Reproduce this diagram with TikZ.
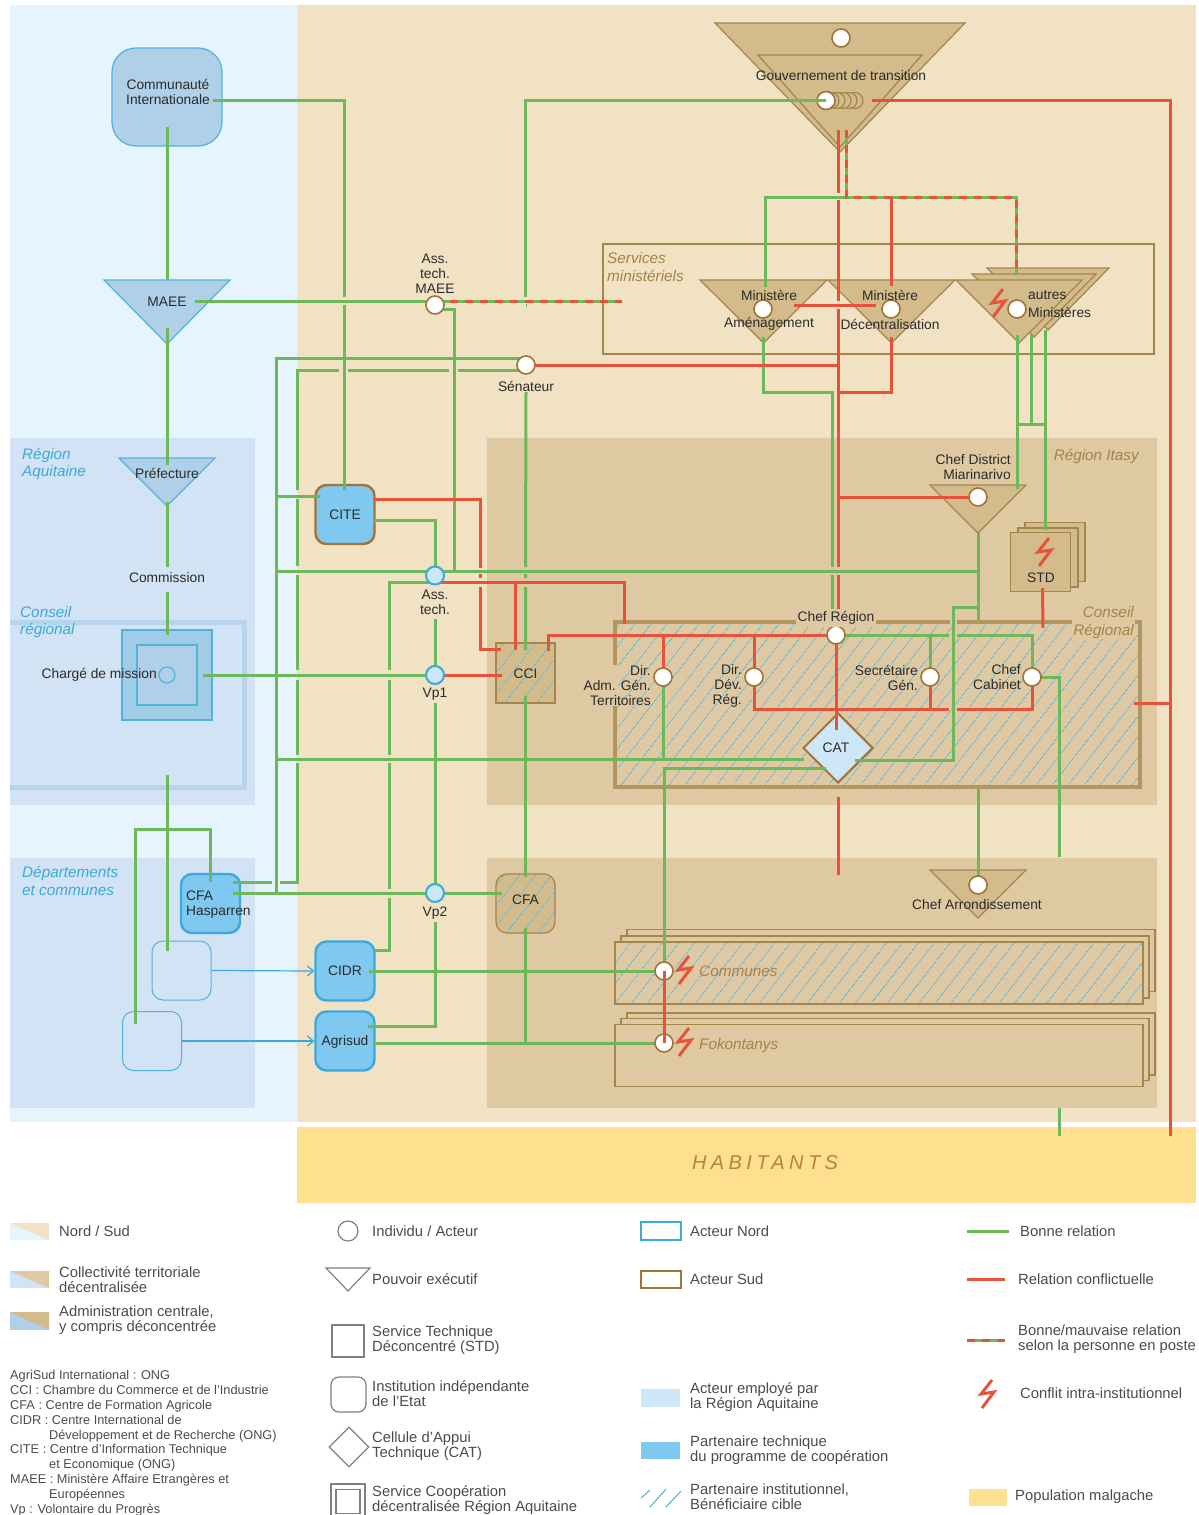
\documentclass[tikz,border=0pt]{standalone}
\usepackage{xcolor}
\usepackage{fontspec}
\setmainfont{Liberation Sans}
\usepackage{tikz}
\usetikzlibrary{shapes.geometric, arrows.meta, patterns.meta}

\definecolor{nordfond}{HTML}{E6F4FD}
\definecolor{sudfond}{HTML}{F1E2C4}
\definecolor{aquit}{HTML}{D2E3F5}
\definecolor{itasy}{HTML}{DFC9A3}
\definecolor{habit}{HTML}{FEE08F}
\definecolor{nordadm}{HTML}{AFD0E8}
\definecolor{sudadm}{HTML}{D3BB8B}
\definecolor{traitnord}{HTML}{4FB3DC}
\definecolor{traitsud}{HTML}{A4854C}
\definecolor{traitact}{HTML}{A0733A}
\definecolor{vert}{HTML}{6DB85A}
\definecolor{rouge}{HTML}{E8523A}
\definecolor{partenaire}{HTML}{7FC8F0}
\definecolor{employe}{HTML}{CDE6F8}
\definecolor{hachcol}{HTML}{5DB5D0}
\definecolor{texte}{HTML}{2B2B2B}
\definecolor{titrenord}{HTML}{3BA9DC}
\definecolor{titresud}{HTML}{A5824A}

\pgfdeclarelayer{fond}
\pgfdeclarelayer{liens}
\pgfsetlayers{fond,liens,main}

\newcommand{\pouvoir}[6]{\draw[#1] ({#2-#4},#3) -- ({#2+#4},#3) -- (#2,{#3+#5}) -- cycle;
    \coordinate (#6) at (#2,#3);
    \coordinate (#6b) at (#2,{#3+#5});}
\newcommand{\eclair}[2]{\draw[mauvaise, shift={(#1,#2)}] (5,-14) -- (-6,0) -- (7,-2) -- (-5,14);}

\begin{document}
\begin{tikzpicture}[x=1pt, y=-1pt]
    \tikzstyle{bonne} = [draw=vert, line width=3pt]
    \tikzstyle{mauvaise} = [draw=rouge, line width=3pt]
    \tikzstyle{mixte} = [draw=vert, line width=3pt, postaction={draw=rouge, dash pattern=on 8pt off 7pt}]
    \tikzstyle{fleche} = [draw=titrenord, line width=1.2pt, -{Straight Barb[length=6pt, width=10pt]}]
    \tikzstyle{lbl} = [font=\fontsize{13.8}{15}\selectfont, text=texte, inner sep=0pt, align=center]
    \tikzstyle{leg} = [font=\fontsize{14.8}{15}\selectfont, text=texte!85, inner sep=0pt, align=left, anchor=west]
    \tikzstyle{titren} = [font=\fontsize{15.3}{17.5}\selectfont\itshape, text=titrenord, inner sep=0pt, align=left, anchor=west]
    \tikzstyle{titres} = [font=\fontsize{15.3}{17.5}\selectfont\itshape, text=titresud, inner sep=0pt, align=left, anchor=west]
    \tikzstyle{acteur} = [circle, draw=traitact, fill=white, line width=1.6pt, minimum size=18pt, inner sep=0pt]
    \tikzstyle{acteurn} = [circle, draw=titrenord, fill=employe, line width=2pt, minimum size=18pt, inner sep=0pt]
    \tikzstyle{trin} = [draw=traitnord, fill=nordadm, line width=1.2pt]
    \tikzstyle{tris} = [draw=traitsud, fill=sudadm, line width=1.2pt]
    \tikzstyle{hachure} = [pattern={Lines[angle=52, distance=13pt, line width=1pt]}, pattern color=hachcol]
    \tikzstyle{instn} = [rectangle, rounded corners=11pt, minimum width=59pt, minimum height=59pt, inner sep=0pt, draw=titrenord, fill=partenaire, line width=2.4pt, text=texte, font=\fontsize{13.8}{15}\selectfont, text height=9.5pt, text depth=0pt]
    \tikzstyle{vide} = [rectangle, rounded corners=11pt, minimum width=59pt, minimum height=59pt, draw=traitnord, line width=1pt]
    \tikzstyle{pile} = [rectangle, minimum width=528pt, minimum height=62pt, draw=traitsud, fill=itasy, line width=1.2pt]
    \tikzstyle{std} = [rectangle, minimum width=60pt, minimum height=59pt, draw=traitsud, fill=sudadm, line width=1.2pt]
    \tikzstyle{forme} = [draw=gray, line width=1.2pt, inner sep=0pt]
    \useasboundingbox (0,0) rectangle (1199,1515);

    \begin{pgfonlayer}{fond}
    \fill[nordfond] (10,5) rectangle (297,1122);
    \fill[sudfond] (297,5) rectangle (1196,1122);
    \fill[aquit] (10,438) rectangle (255,805);
    \fill[aquit] (10,858) rectangle (255,1108);
    \fill[itasy] (487,438) rectangle (1157,805);
    \fill[itasy] (487,858) rectangle (1157,1108);
    \fill[habit] (297,1127) rectangle (1196,1203);
    \draw[nordadm!80!aquit, line width=5pt] (10,622) -- (244,622) -- (244,787) -- (10,787);

    \node (services) [rectangle, minimum width=551pt, minimum height=110pt, draw=traitsud, line width=2pt] at (878.5,299) {};
    \node (conseil) [rectangle, minimum width=525pt, minimum height=165pt, draw=traitsud!70!sudadm, line width=4pt, preaction={fill=itasy}, hachure] at (877.5,704.5) {};
    \fill[itasy] (612,665) rectangle (618,706);
    \fill[itasy] (949.5,619) rectangle (956.5,625);

    \node (comm) [rectangle, rounded corners=24pt, minimum width=110pt, minimum height=98pt, draw=traitnord, fill=nordadm, line width=1.2pt] at (167,97) {};
    \pouvoir{trin}{167}{280}{63}{64}{maae}
    \pouvoir{trin}{167}{458}{48}{48}{pref}
    \node (charge) [rectangle, minimum size=90pt, draw=traitnord, fill=nordadm!85!traitnord, line width=1.2pt] at (167,675) {};
    \node (chargei) [rectangle, minimum size=60pt, draw=traitnord, fill=nordadm, line width=1.2pt] at (167,675) {};

    \node (cfah) [instn] at (210.5,903.5) {};
    \node (vide1) [vide] at (181.5,970.5) {};
    \node (vide2) [vide] at (152,1041) {};
    \node (cite) [instn, draw=traitact] at (345,514.5) {CITE};
    \node (cidr) [instn] at (345,971) {CIDR};
    \node (agri) [instn] at (345,1041) {Agrisud};
    \node (cci) [rectangle, minimum width=59pt, minimum height=60pt, draw=traitsud, line width=1.2pt, preaction={fill=sudadm}, hachure] at (525.5,673) {};
    \node (cfa) [rectangle, rounded corners=11pt, minimum width=59pt, minimum height=59pt, draw=traitsud, line width=1.2pt, preaction={fill=sudadm}, hachure] at (525.5,903.5) {};

    \pouvoir{tris}{840}{23}{125}{129}{gouv}
    \pouvoir{tris}{840}{55}{82}{92}{gouvi}
    \pouvoir{tris}{763.5}{280}{63.5}{63}{ame}
    \pouvoir{tris}{891.5}{280}{63.5}{63}{dec}
    \pouvoir{tris}{1048}{268}{61}{62}{autc}
    \pouvoir{tris}{1034}{274}{62}{63}{autd}
    \pouvoir{tris}{1019}{280}{63}{63}{aut}
    \pouvoir{tris}{978}{485}{48}{48}{cdist}
    \pouvoir{tris}{978}{870}{48}{48}{carr}

    \node (stdc) [std] at (1055,552) {};
    \node (stdb) [std] at (1048,557.5) {};
    \node (stda) [std] at (1040.5,562) {};

    \node (comc) [pile] at (891,960.5) {};
    \node (comb) [pile] at (885,967) {};
    \node (coma) [pile, preaction={fill=itasy}, hachure] at (879,973) {};
    \node (fokc) [pile] at (891,1044) {};
    \node (fokb) [pile] at (885,1049.5) {};
    \node (foka) [pile] at (879,1055.5) {};

    \node (cat) [diamond, minimum size=70pt, inner sep=0pt, draw=traitact, fill=employe, line width=2pt] at (838,748) {};
    \end{pgfonlayer}

    \node (gouvt) [acteur] at (841,38) {};
    \foreach \px in {855,849,843,837,831}
        \draw[draw=traitsud, fill=sudadm, line width=1.2pt] (\px,100.5) circle (8);
    \node (gouvc) [acteur] at (826,100.5) {};
    \node (ame1) [acteur] at (763,309) {};
    \node (dec1) [acteur] at (891,309) {};
    \node (aut1) [acteur] at (1017,309) {};
    \node (atm) [acteur] at (435,305) {};
    \node (sen) [acteur] at (526,365) {};
    \node (asst) [acteurn] at (435,575.5) {};
    \node (vp1) [acteurn] at (435,675) {};
    \node (vp2) [acteurn] at (435,893) {};
    \node (cdc) [acteur] at (978,497) {};
    \node (chr) [acteur] at (836,635) {};
    \node (dira) [acteur] at (663,677) {};
    \node (dird) [acteur] at (754,677) {};
    \node (sg) [acteur] at (930,677) {};
    \node (cab) [acteur] at (1032,677) {};
    \node (carc) [acteur] at (978,885) {};
    \node (ncom) [acteur] at (664,971) {};
    \node (nfok) [acteur] at (664,1043) {};
    \node (chargec) [circle, draw=traitnord, line width=1.2pt, minimum size=16pt, inner sep=0pt] at (167,675) {};

    \begin{pgfonlayer}{liens}
    \draw[bonne] ([yshift=20pt]comm.south) -- (maae);
    \draw[bonne] ([yshift=16pt]maaeb) -- ([yshift=-7pt]pref);
    \draw[bonne] ([yshift=4pt]prefb) -- (167,567);
    \draw[bonne] (167,592) -- ([yshift=-6pt]charge.north);
    \draw[bonne] (167,775) -- (167,951);
    \draw[bonne] ([yshift=-9pt]cfah.north) |- (135,829) -- ([xshift=-17pt,yshift=-13pt]vide2.north);
    \draw[bonne] ([xshift=-10pt,yshift=-3pt]comm.east) -| (344,297) (344,305) -- ([xshift=-1pt,yshift=-6pt]cite.north);
    \draw[bonne] ([xshift=28pt,yshift=-21pt]maae) -- ([yshift=4pt]atm.center);
    \draw[mixte] ([yshift=4pt]atm.center) -- ([xshift=20pt,yshift=-2pt]services.west);
    \draw[bonne] ([yshift=-4pt]atm.center) -| (454,571);
    \draw[bonne] ([yshift=7pt]sen.center) -| (276,893);
    \draw[bonne] ([yshift=-5pt]sen.center) -- (458,370) (449,370) -- (348,370) (339,370) -| (297,490) (297,499) -- (297,566) (297,575) -- (297,670) (297,680) -- (297,755) (297,763) -- (297,882) -- (280,882) (272,882) -- ([xshift=-8pt,yshift=21.5pt]cfah.east);
    \draw[bonne] ([xshift=-8pt,yshift=10.5pt]cfah.east) -- (vp2.center) -- ([xshift=7pt,yshift=10.5pt]cfa.west);
    \draw[bonne] (276,496) -- ([xshift=6pt,yshift=18.5pt]cite.west);
    \draw[bonne] (276,571) -- (978,571);
    \draw[bonne] (cdistb) -- (978,621);
    \draw[bonne] ([yshift=-27pt]sen.center) -- (525.5,567) (525.5,574) -- (525.5,578) (525.5,587) -- ([yshift=-8pt]cci.north);
    \draw[bonne] ([yshift=8pt]cci.south) -- ([yshift=-4pt]cfa.north);
    \draw[bonne] ([yshift=6pt]cfa.south) -- (525.5,1043);
    \draw[bonne] ([xshift=-3pt,yshift=-5.5pt]cite.east) -| (asst.center);
    \draw[bonne] ([yshift=-43pt]asst.center) -- (vp1.center);
    \draw[bonne] ([yshift=-28pt]vp1.center) -- (vp2.center);
    \draw[bonne] ([yshift=-29pt]vp2.center) |- ([xshift=-8pt,yshift=15pt]agri.east);
    \draw[bonne] ([xshift=-10pt]charge.east) -- (vp1.center);
    \draw[bonne] ([yshift=-6.5pt]asst.center) -| (389,670) (389,680) -- (389,755) (389,763) -- (389,889) (389,898) |- ([xshift=-2pt,yshift=21pt]cidr.east);
    \draw[bonne] (276,759) -- ([xshift=2pt,yshift=-11pt]cat.west);
    \draw[bonne] ([xshift=-19pt,yshift=-12pt]cat.east) -| (953,607) -- (978,607);
    \draw[bonne] ([xshift=24pt,yshift=-20pt]cat.west) -| (ncom.center);
    \draw[bonne] (chr.center) -- (949,635) (957,635) -| (cab.center);
    \draw[bonne] (930,635) -- (sg.center);
    \draw[bonne] (dira.center) -- (663,759);
    \draw[bonne] (cab.center) -| (1059,857);
    \draw[bonne] (1059,1108) -- (1059,1136);
    \draw[bonne] (978,789) -- (carc.center);
    \draw[bonne] ([xshift=-7pt]cidr.east) -- (ncom.center);
    \draw[bonne] ([xshift=-3pt,yshift=-2pt]agri.east) -- (nfok.center);
    \draw[bonne] ([yshift=6pt]ameb) |- (832,392) -- (832,567) (832,575) -- (832,609);
    \draw[bonne] (846,197) -| (765,287);
    \draw[bonne] (1017,335) -- (1017,489);
    \draw[bonne] (1031,335) -- (1031,424);
    \draw[bonne] (1045,330) -- (1045,530);
    \draw[bonne] (1017,424) -- (1045,424);
    \draw[mixte] ([xshift=6pt,yshift=22pt]gouvb) |- (1016,197) -- (1016,275);

    \draw[mauvaise] ([xshift=-3pt,yshift=15.5pt]cite.east) -| (480,568) (480,574) -- (480,578) (480,587) |- ([xshift=6pt,yshift=24pt]cci.west);
    \draw[mauvaise] ([yshift=-6.5pt]asst.center) -- (624,582) -- (624,624);
    \draw[mauvaise] (515,582) -- ([xshift=-10.5pt,yshift=-8pt]cci.north);
    \draw[mauvaise] (vp1.center) -- ([xshift=7pt,yshift=-2pt]cci.west);
    \draw[mauvaise] (chr.center) -| ([xshift=22.5pt,yshift=-9pt]cci.north);
    \draw[mauvaise] (663,635) -- (dira.center);
    \draw[mauvaise] (754,635) -- (754,709) -- (949,709) (957,709) -| (cab.center);
    \draw[mauvaise] (sg.center) -- (930,709);
    \draw[mauvaise] (chr.center) -- (836,730);
    \draw[mauvaise] (838,797) -- (838,875);
    \draw[mauvaise] (838,130) -- (838,193) (838,200) -- (838,301) (838,309) -- (838,567) (838,575) -- (838,610);
    \draw[mauvaise] (sen.center) -- (838,365);
    \draw[mauvaise] ([yshift=6pt]decb) |- (838,392);
    \draw[mauvaise] (891,197) -- (891,286);
    \draw[mauvaise] (794,305) -- (876,305);
    \draw[mauvaise] (872,100) -| (1170,1136);
    \draw[mauvaise] (1134,703) -- (1170,703);
    \draw[mauvaise] (838,497) -- (cdc.center);
    \draw[mauvaise] ([xshift=2pt,yshift=4pt]stda.south) -- (1043,628);

    \draw[fleche] (vide1.east) -- (cidr.west);
    \draw[fleche] (vide2.east) -- (agri.west);
    \end{pgfonlayer}

    \draw[bonne] (525.5,297) |- (gouvc.center);
    \draw[bonne] ([yshift=60pt]sen.center) -- (525.5,305);
    \draw[mauvaise] (ncom.center) -- (nfok.center);

    \eclair{998}{303}
    \eclair{1044}{552}
    \eclair{684}{970}
    \eclair{684}{1042}

    \node (tcomm0) [lbl] at (168,92) {Communauté\\Internationale};
    \node (tmaae) [lbl] at (167,302) {MAEE};
    \node (tpref) [lbl] at (167,473) {Préfecture};
    \node (commission) [lbl] at (167,578) {Commission};
    \node (tcharge) [lbl, anchor=east] at (157,675) {Chargé de mission};
    \node (tcfah) [lbl, align=left, anchor=west] at (186,904.5) {CFA\\Hasparren};
    \node (tatm) [lbl] at (435,274) {Ass.\\tech.\\MAEE};
    \node (tsen) [lbl] at (526,386) {Sénateur};
    \node (tasst) [lbl] at (435,602) {Ass.\\tech.};
    \node (tvp1) [lbl] at (435,694) {Vp1};
    \node (tvp2) [lbl] at (435,913) {Vp2};
    \node (tcci) [lbl] at (525.5,674) {CCI};
    \node (tcfa) [lbl] at (525.5,900) {CFA};
    \node (tgouv) [lbl] at (841,76) {Gouvernement de transition};
    \node (tame1) [lbl] at (769,295) {Ministère};
    \node (tame2) [lbl] at (769,324) {Aménagement};
    \node (tdec1) [lbl] at (890,295) {Ministère};
    \node (tdec2) [lbl] at (890,324) {Décentralisation};
    \node (taut1) [lbl, anchor=west] at (1028,295) {autres};
    \node (taut2) [lbl, anchor=west] at (1028,312) {Ministères};
    \node (tcdist) [lbl, align=right, anchor=east] at (1011,467) {Chef District\\Miarinarivo};
    \node (tstd) [lbl] at (1041,578) {STD};
    \node (tchr) [lbl, fill=itasy, inner sep=2pt] at (836,618) {Chef Région};
    \node (tdira) [lbl, align=right, anchor=east] at (651,685.5) {Dir.\\Adm. Gén.\\Territoires};
    \node (tdird) [lbl, align=right, anchor=east] at (742,685.5) {Dir.\\Dév.\\Rég.};
    \node (tsg) [lbl, align=right, anchor=east] at (918,677.5) {Secrétaire\\Gén.};
    \node (tcab) [lbl, align=right, anchor=east] at (1021,677.5) {Chef\\Cabinet};
    \node (tcat) [lbl] at (836,748) {CAT};
    \node (tcarr) [lbl] at (977,905) {Chef Arrondissement};

    \node (rnord) [titren] at (22,464) {Région\\Aquitaine};
    \node (cnord) [titren] at (20,622) {Conseil\\régional};
    \node (dnord) [titren] at (22,881) {Départements\\et communes};
    \node (tserv) [titres] at (607,267) {Services\\ministériels};
    \node (titasy) [titres, anchor=east] at (1139,456) {Région Itasy};
    \node (tcons) [titres, align=right, anchor=east, fill=itasy, inner sep=1pt] at (1135,622.5) {Conseil\\Régional};
    \node (tcomm) [titres] at (699,971) {Communes};
    \node (tfok) [titres] at (699,1046) {Fokontanys};
    \node (thab) [font=\fontsize{20}{22}\selectfont\itshape\addfontfeature{LetterSpace=22}, text=titresud!80!orange, inner sep=0pt] at (765,1163) {HABITANTS};

    \fill[nordfond] (10,1223) rectangle (49,1240);
    \fill[sudfond] (10,1223) -- (49,1223) -- (49,1240) -- cycle;
    \fill[aquit] (10,1271) rectangle (49,1288);
    \fill[itasy] (10,1271) -- (49,1271) -- (49,1288) -- cycle;
    \fill[nordadm] (10,1312) rectangle (49,1330);
    \fill[sudadm] (10,1312) -- (49,1312) -- (49,1330) -- cycle;
    \node (l1) [leg] at (59,1231) {Nord / Sud};
    \node (l2) [leg] at (59,1279.5) {Collectivité territoriale\\décentralisée};
    \node (l3) [leg] at (59,1320.5) {Administration centrale,\\y compris déconcentrée};
    \node (labbr) [font=\fontsize{12.75}{14.9}\selectfont, text=texte!85, inner sep=0pt, align=left, anchor=north west] at (10,1370) {AgriSud International : ONG\\CCI : Chambre du Commerce et de l’Industrie\\CFA : Centre de Formation Agricole\\CIDR : Centre International de\\\hspace*{39pt}Développement et de Recherche (ONG)\\CITE : Centre d’Information Technique\\\hspace*{39pt}et Economique (ONG)\\MAEE : Ministère Affaire Etrangères et\\\hspace*{39pt}Européennes\\Vp : Volontaire du Progrès};

    \node (f1) [forme, circle, minimum size=20pt] at (348,1231) {};
    \draw[forme] (326,1268) -- (370,1268) -- (348,1291) -- cycle;
    \node (f3) [forme, rectangle, minimum width=32pt, minimum height=32pt] at (348,1341) {};
    \node (f4) [forme, rectangle, rounded corners=8pt, minimum width=35pt, minimum height=35pt] at (348.5,1394.5) {};
    \node (f5) [forme, diamond, minimum size=40pt] at (349,1447) {};
    \node (f6) [forme, rectangle, minimum width=34pt, minimum height=34pt] at (348,1501) {};
    \node (f7) [forme, rectangle, minimum width=24pt, minimum height=24pt] at (348,1501.5) {};
    \node (l4) [leg] at (372,1231) {Individu / Acteur};
    \node (l5) [leg] at (372,1279) {Pouvoir exécutif};
    \node (l6) [leg] at (372,1340) {Service Technique\\Déconcentré (STD)};
    \node (l7) [leg] at (372,1393.5) {Institution indépendante\\de l’Etat};
    \node (l8) [leg] at (372,1446.5) {Cellule d’Appui\\Technique (CAT)};
    \node (l9) [leg] at (372,1500.5) {Service Coopération\\décentralisée Région Aquitaine};

    \draw[titrenord, line width=2pt] (641,1222) rectangle (681,1240);
    \draw[traitact, line width=2pt] (641,1271) rectangle (681,1288);
    \fill[employe] (641,1389) rectangle (680,1407);
    \fill[partenaire] (641,1442) rectangle (680,1459);
    \draw[hachcol, line width=1.1pt] (641,1498) -- (650,1490) (650,1507) -- (666,1489) (666,1507) -- (681,1491);
    \node (l10) [leg] at (690,1231) {Acteur Nord};
    \node (l11) [leg] at (690,1279) {Acteur Sud};
    \node (l12) [leg] at (690,1397.5) {Acteur employé par\\la Région Aquitaine};
    \node (l13) [leg] at (690,1450.5) {Partenaire technique\\du programme de coopération};
    \node (l14) [leg] at (690,1497) {Partenaire institutionnel,\\Bénéficiaire cible};

    \coordinate (b1) at (967,1231);
    \coordinate (b2) at (967,1279);
    \coordinate (b3) at (967,1340);
    \draw[bonne] (b1) -- ++(42,0);
    \draw[mauvaise] (b2) -- ++(38,0);
    \draw[mixte] (b3) -- ++(38,0);
    \eclair{987}{1394}
    \fill[habit] (969,1489) rectangle (1007,1506);
    \node (l15) [leg] at (1020,1231) {Bonne relation};
    \node (l16) [leg] at (1018,1279) {Relation conflictuelle};
    \node (l17) [leg] at (1018,1339.5) {Bonne/mauvaise relation\\selon la personne en poste};
    \node (l18) [leg] at (1020,1393) {Conflit intra-institutionnel};
    \node (l19) [leg] at (1015,1497) {Population malgache};
\end{tikzpicture}
\end{document}
